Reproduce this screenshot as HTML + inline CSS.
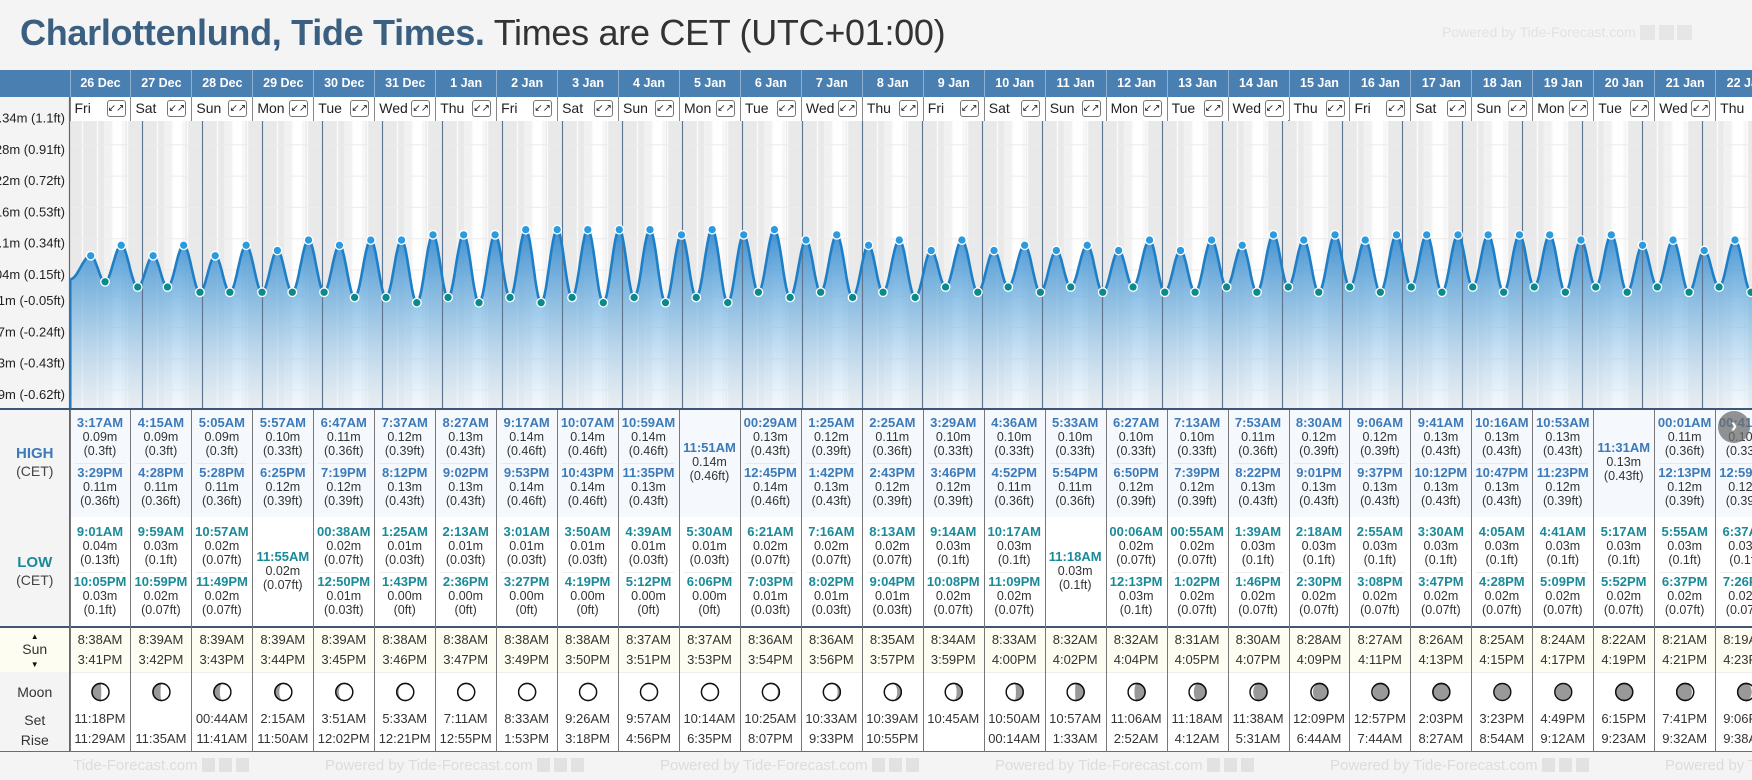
<!DOCTYPE html>
<html><head><meta charset="utf-8">
<style>
*{box-sizing:border-box;margin:0;padding:0}
body{width:1752px;height:780px;overflow:hidden;background:#f4f4f4;font-family:"Liberation Sans",Arial,sans-serif;position:relative}
.a{position:absolute}
.c{position:absolute;text-align:center;white-space:nowrap}
#title{left:20px;top:12px;font-size:36px;color:#333;white-space:nowrap;letter-spacing:-0.3px}
#title b{color:#3a5f80}
</style></head><body>
<div id="title" class="a"><b>Charlottenlund, Tide Times.</b> Times are CET (UTC+01:00)</div>
<div class="a" style="left:1442px;top:24px;font-size:14px;color:#e2e2e2;white-space:nowrap">Powered by Tide-Forecast.com <span style="display:inline-block;width:15px;height:15px;background:#e6e6e6;vertical-align:-3px"></span> <span style="display:inline-block;width:15px;height:15px;background:#e6e6e6;vertical-align:-3px"></span> <span style="display:inline-block;width:15px;height:15px;background:#e6e6e6;vertical-align:-3px"></span></div>
<div id="root" style="position:absolute;left:0;top:0;width:1752px;height:780px;overflow:hidden"></div>
<script>
// ---- data ----
const dates=["26 Dec","27 Dec","28 Dec","29 Dec","30 Dec","31 Dec","1 Jan","2 Jan","3 Jan","4 Jan","5 Jan","6 Jan","7 Jan","8 Jan","9 Jan","10 Jan","11 Jan","12 Jan","13 Jan","14 Jan","15 Jan","16 Jan","17 Jan","18 Jan","19 Jan","20 Jan","21 Jan","22 Jan"];
const weekdays=["Fri","Sat","Sun","Mon","Tue","Wed","Thu","Fri","Sat","Sun","Mon","Tue","Wed","Thu","Fri","Sat","Sun","Mon","Tue","Wed","Thu","Fri","Sat","Sun","Mon","Tue","Wed","Thu"];
const highTimes=[["3:17AM","3:29PM"],["4:15AM","4:28PM"],["5:05AM","5:28PM"],["5:57AM","6:25PM"],["6:47AM","7:19PM"],["7:37AM","8:12PM"],["8:27AM","9:02PM"],["9:17AM","9:53PM"],["10:07AM","10:43PM"],["10:59AM","11:35PM"],["11:51AM"],["00:29AM","12:45PM"],["1:25AM","1:42PM"],["2:25AM","2:43PM"],["3:29AM","3:46PM"],["4:36AM","4:52PM"],["5:33AM","5:54PM"],["6:27AM","6:50PM"],["7:13AM","7:39PM"],["7:53AM","8:22PM"],["8:30AM","9:01PM"],["9:06AM","9:37PM"],["9:41AM","10:12PM"],["10:16AM","10:47PM"],["10:53AM","11:23PM"],["11:31AM"],["00:01AM","12:13PM"],["00:41AM","12:59PM"]];
const highM=[[0.09,0.11],[0.09,0.11],[0.09,0.11],[0.10,0.12],[0.11,0.12],[0.12,0.13],[0.13,0.13],[0.14,0.14],[0.14,0.14],[0.14,0.13],[0.14],[0.13,0.14],[0.12,0.13],[0.11,0.12],[0.10,0.12],[0.10,0.11],[0.10,0.11],[0.10,0.12],[0.10,0.12],[0.11,0.13],[0.12,0.13],[0.12,0.13],[0.13,0.13],[0.13,0.13],[0.13,0.12],[0.13],[0.11,0.12],[0.10,0.12]];
const highFt=[["0.3","0.36"],["0.3","0.36"],["0.3","0.36"],["0.33","0.39"],["0.36","0.39"],["0.39","0.43"],["0.43","0.43"],["0.46","0.46"],["0.46","0.46"],["0.46","0.43"],["0.46"],["0.43","0.46"],["0.39","0.43"],["0.36","0.39"],["0.33","0.39"],["0.33","0.36"],["0.33","0.36"],["0.33","0.39"],["0.33","0.39"],["0.36","0.43"],["0.39","0.43"],["0.39","0.43"],["0.43","0.43"],["0.43","0.43"],["0.43","0.39"],["0.43"],["0.36","0.39"],["0.33","0.39"]];
const lowTimes=[["9:01AM","10:05PM"],["9:59AM","10:59PM"],["10:57AM","11:49PM"],["11:55AM"],["00:38AM","12:50PM"],["1:25AM","1:43PM"],["2:13AM","2:36PM"],["3:01AM","3:27PM"],["3:50AM","4:19PM"],["4:39AM","5:12PM"],["5:30AM","6:06PM"],["6:21AM","7:03PM"],["7:16AM","8:02PM"],["8:13AM","9:04PM"],["9:14AM","10:08PM"],["10:17AM","11:09PM"],["11:18AM"],["00:06AM","12:13PM"],["00:55AM","1:02PM"],["1:39AM","1:46PM"],["2:18AM","2:30PM"],["2:55AM","3:08PM"],["3:30AM","3:47PM"],["4:05AM","4:28PM"],["4:41AM","5:09PM"],["5:17AM","5:52PM"],["5:55AM","6:37PM"],["6:37AM","7:26PM"]];
const lowM=[[0.04,0.03],[0.03,0.02],[0.02,0.02],[0.02],[0.02,0.01],[0.01,0.00],[0.01,0.00],[0.01,0.00],[0.01,0.00],[0.01,0.00],[0.01,0.00],[0.02,0.01],[0.02,0.01],[0.02,0.01],[0.03,0.02],[0.03,0.02],[0.03],[0.02,0.03],[0.02,0.02],[0.03,0.02],[0.03,0.02],[0.03,0.02],[0.03,0.02],[0.03,0.02],[0.03,0.02],[0.03,0.02],[0.03,0.02],[0.03,0.02]];
const lowFt=[["0.13","0.1"],["0.1","0.07"],["0.07","0.07"],["0.07"],["0.07","0.03"],["0.03","0"],["0.03","0"],["0.03","0"],["0.03","0"],["0.03","0"],["0.03","0"],["0.07","0.03"],["0.07","0.03"],["0.07","0.03"],["0.1","0.07"],["0.1","0.07"],["0.1"],["0.07","0.1"],["0.07","0.07"],["0.1","0.07"],["0.1","0.07"],["0.1","0.07"],["0.1","0.07"],["0.1","0.07"],["0.1","0.07"],["0.1","0.07"],["0.1","0.07"],["0.1","0.07"]];
const sunRise=["8:38AM","8:39AM","8:39AM","8:39AM","8:39AM","8:38AM","8:38AM","8:38AM","8:38AM","8:37AM","8:37AM","8:36AM","8:36AM","8:35AM","8:34AM","8:33AM","8:32AM","8:32AM","8:31AM","8:30AM","8:28AM","8:27AM","8:26AM","8:25AM","8:24AM","8:22AM","8:21AM","8:19AM"];
const sunSet=["3:41PM","3:42PM","3:43PM","3:44PM","3:45PM","3:46PM","3:47PM","3:49PM","3:50PM","3:51PM","3:53PM","3:54PM","3:56PM","3:57PM","3:59PM","4:00PM","4:02PM","4:04PM","4:05PM","4:07PM","4:09PM","4:11PM","4:13PM","4:15PM","4:17PM","4:19PM","4:21PM","4:23PM"];
const moonSet=["11:18PM","","00:44AM","2:15AM","3:51AM","5:33AM","7:11AM","8:33AM","9:26AM","9:57AM","10:14AM","10:25AM","10:33AM","10:39AM","10:45AM","10:50AM","10:57AM","11:06AM","11:18AM","11:38AM","12:09PM","12:57PM","2:03PM","3:23PM","4:49PM","6:15PM","7:41PM","9:06PM"];
const moonRise=["11:29AM","11:35AM","11:41AM","11:50AM","12:02PM","12:21PM","12:55PM","1:53PM","3:18PM","4:56PM","6:35PM","8:07PM","9:33PM","10:55PM","","00:14AM","1:33AM","2:52AM","4:12AM","5:31AM","6:44AM","7:44AM","8:27AM","8:54AM","9:12AM","9:23AM","9:32AM","9:38AM"];
const moonLit=[0.45,0.55,0.65,0.74,0.82,0.89,0.95,0.98,1.0,0.99,0.96,0.91,0.84,0.76,0.67,0.57,0.47,0.37,0.28,0.19,0.12,0.06,0.02,0.0,0.01,0.04,0.1,0.17];
const moonWaxing=[1,1,1,1,1,1,1,1,1,0,0,0,0,0,0,0,0,0,0,0,0,0,0,0,1,1,1,1];
const yTickM=["0.34m","0.28m","0.22m","0.16m","0.1m","0.04m","-0.01m","-0.07m","-0.13m","-0.19m"];
const yTickFt=["1.1ft","0.91ft","0.72ft","0.53ft","0.34ft","0.15ft","-0.05ft","-0.24ft","-0.43ft","-0.62ft"];
const yTickVal=[0.34,0.28,0.22,0.16,0.10,0.04,-0.01,-0.07,-0.13,-0.19];
const startVal=0.045;

// ---- layout ----
const L=69.5, CW=60.95, N=dates.length;
const CH_TOP=121, CH_BOT=408;
const X0=82.5, PXH=2.5;
function xT(h){return X0+h*PXH;}
function yV(v){return 250.5-(v-0.1)*521.7;}
function yTick(v){return 243.7-(v-0.1)*521.7;}
function hrs(s){const m=s.match(/(\d+):(\d+)(AM|PM)/);let h=+m[1]%12;if(m[3]=="PM")h+=12;return h+ +m[2]/60;}
const root=document.getElementById('root');
function div(cls,style,html){const d=document.createElement('div');d.className=cls;d.style.cssText=style;if(html!==undefined)d.innerHTML=html;root.appendChild(d);return d;}
const NS="http://www.w3.org/2000/svg";
function sv(tag,attrs,parent){const e=document.createElementNS(NS,tag);for(const k in attrs)e.setAttribute(k,attrs[k]);parent.appendChild(e);return e;}

// header
let d=div('a','left:0;top:70px;width:1752px;height:27px;background:#4a7fb1');


d=div('a','left:0;top:97px;width:'+L+'px;height:24px;background:#f4f4f4');
d=div('a','left:'+L+'px;top:97px;width:'+(1752-L)+'px;height:24px;background:#fff;border-bottom:1px solid #888');
for(let i=0;i<N;i++){
  const x=L+i*CW;
  d=div('c','left:'+x+'px;top:70px;width:'+CW+'px;height:27px;line-height:27px;color:#fff;font-weight:bold;font-size:12.5px;border-left:1px solid #8fb0d0',dates[i]);
  
  
  d=div('a','left:'+x+'px;top:97px;width:'+CW+'px;height:24px;border-left:1px solid #888;background:#fff');
  d=div('a','left:'+(x+5)+'px;top:100px;font-size:14px;color:#222;white-space:nowrap',weekdays[i]);
  
  
  if(i<N-1){
    d=div('c','left:'+(x+37)+'px;top:100px;width:19px;height:17px;border:1px solid #777;border-radius:3px;font-size:10px;line-height:15px;color:#222;background:#fff','&#x2199;&#x2197;');
    
    
  }
}

// chart svg
const svg=document.createElementNS(NS,'svg');
svg.setAttribute('width',1752);svg.setAttribute('height',410);
svg.style.cssText='position:absolute;left:0;top:0';


root.appendChild(svg);
const defs=sv('defs',{},svg);
const gr=sv('linearGradient',{id:'fillg',x1:0,y1:0,x2:0,y2:1},defs);
sv('stop',{offset:'0%','stop-color':'#2b85cc','stop-opacity':0.9},gr);
sv('stop',{offset:'45%','stop-color':'#6aaee0','stop-opacity':0.65},gr);
sv('stop',{offset:'100%','stop-color':'#e8f2fb','stop-opacity':0.5},gr);
const cp=sv('clipPath',{id:'clipc'},defs);
sv('rect',{x:L,y:CH_TOP,width:1752-L,height:CH_BOT-CH_TOP},cp);
const g=sv('g',{'clip-path':'url(#clipc)'},svg);
sv('rect',{x:L,y:CH_TOP,width:1752-L,height:CH_BOT-CH_TOP,fill:'#f7f7f7'},g);
// day/night bands
for(let i=-1;i<N;i++){
  const k=Math.max(i,0);
  const rise=i*24+hrs(sunRise[k]), set=i*24+hrs(sunSet[k]);
  sv('rect',{x:xT(rise),y:CH_TOP,width:xT(rise+3.3)-xT(rise),height:CH_BOT-CH_TOP,fill:'#f1f1f1'},g);
  sv('rect',{x:xT(rise+3.3),y:CH_TOP,width:xT(set)-xT(rise+3.3),height:CH_BOT-CH_TOP,fill:'#ffffff'},g);
  sv('rect',{x:xT(i*24),y:CH_TOP,width:xT(rise)-xT(i*24),height:CH_BOT-CH_TOP,fill:'#e9e9e9'},g);
  sv('rect',{x:xT(set+1.5),y:CH_TOP,width:xT((i+1)*24)-xT(set+1.5),height:CH_BOT-CH_TOP,fill:'#e9e9e9'},g);
}
// grid
for(let h=-24;h<N*24;h+=6) sv('line',{x1:xT(h),x2:xT(h),y1:CH_TOP,y2:CH_BOT,stroke:'#fafafa','stroke-width':1.5},g);
yTickVal.forEach(v=>sv('line',{x1:L,x2:1752,y1:yTick(v)-5,y2:yTick(v)-5,stroke:'#ececec','stroke-width':1},g));
// extremes
const ext=[{t:-4.9,v:startVal,hi:null}];
for(let i=0;i<N;i++){
  highTimes[i].forEach((s,j)=>ext.push({t:i*24+hrs(s),v:highM[i][j],hi:true}));
  lowTimes[i].forEach((s,j)=>ext.push({t:i*24+hrs(s),v:lowM[i][j],hi:false}));
}
ext.sort((a,b)=>a.t-b.t);
let pts=[];
for(let k=0;k<ext.length-1;k++){
  const a=ext[k],b=ext[k+1];const n=Math.max(4,Math.ceil((b.t-a.t)*PXH));
  for(let s=0;s<n;s++){const f=s/n;const v=a.v+(b.v-a.v)*(1-Math.cos(Math.PI*f))/2;pts.push([xT(a.t+(b.t-a.t)*f),yV(v)]);}
}
const last=ext[ext.length-1];pts.push([xT(last.t),yV(last.v)]);
pts.push([xT(last.t+6),yV(0.04)]);
const line=pts.map((p,i)=>(i?'L':'M')+p[0].toFixed(1)+','+p[1].toFixed(1)).join('');
const area=sv('path',{d:line+'L'+pts[pts.length-1][0]+','+CH_BOT+'L'+pts[0][0]+','+CH_BOT+'Z',fill:'url(#fillg)'},g);


// midnight lines
for(let i=1;i<=N;i++) sv('line',{x1:xT(i*24),x2:xT(i*24),y1:CH_TOP,y2:CH_BOT,stroke:'#5e7590','stroke-width':1.2},g);
const tl=sv('path',{d:line,fill:'none',stroke:'#1f7fc6','stroke-width':2.6},g);


sv('line',{x1:pts[0][0],x2:pts[0][0],y1:pts[0][1],y2:CH_BOT,stroke:'#1f7fc6','stroke-width':2.6},g);
ext.forEach(e=>{if(e.hi===null)return;
  const c=sv('circle',{cx:xT(e.t),cy:yV(e.v),r:4.3,fill:e.hi?'#2b9be0':'#0b8a8c',stroke:'#fff','stroke-width':1.3},g);
  
  
});
// y axis labels
yTickVal.forEach((v,i)=>{
  const t=sv('text',{x:65,y:yTick(v)+4,'text-anchor':'end','font-size':13,fill:'#222','font-family':'Liberation Sans, sans-serif'},svg);
  t.textContent=yTickM[i]+' ('+yTickFt[i]+')';
  
  
});
sv('rect',{x:0,y:97,width:L,height:16,fill:'#f4f4f4'},svg);
sv('line',{x1:L,x2:L,y1:97,y2:410,stroke:'#666','stroke-width':1.2},svg);

// table backgrounds
div('a','left:0;top:408px;width:1752px;height:2px;background:#3d5876');
div('a','left:'+L+'px;top:410px;width:'+(1752-L)+'px;height:107px;background:#f5f9fd');
div('a','left:'+L+'px;top:517px;width:'+(1752-L)+'px;height:109px;background:#fff');
div('a','left:0;top:626px;width:1752px;height:2px;background:#3d5876');
div('a','left:'+L+'px;top:628px;width:'+(1752-L)+'px;height:44px;background:#fdfdf1');
div('a','left:0;top:628px;width:'+L+'px;height:44px;background:#fdfdf1');
div('a','left:'+L+'px;top:672px;width:'+(1752-L)+'px;height:80px;background:#fff;border-top:1px solid #eee');
div('a','left:0;top:751px;width:1752px;height:1px;background:#5a6f88');
div('a','left:'+(L-0.5)+'px;top:410px;width:1.2px;height:342px;background:#666');
// left labels
function lab(t,y,style,name){const e=div('c','left:0;top:'+y+'px;width:'+L+'px;'+style,t);}
lab('HIGH',445,'font-size:15px;font-weight:bold;color:#3d7ab8','high-label');
lab('(CET)',463,'font-size:14px;color:#444','high-cet-label');
lab('LOW',554,'font-size:15px;font-weight:bold;color:#1a8a99','low-label');
lab('(CET)',572,'font-size:14px;color:#444','low-cet-label');
lab('&#9650;',632,'font-size:8px;color:#111','sun-up-arrow');
lab('Sun',641,'font-size:14px;color:#333','sun-label');
lab('&#9660;',660,'font-size:8px;color:#111','sun-down-arrow');
lab('Moon',684,'font-size:14px;color:#333','moon-label');
lab('Set',712,'font-size:14px;color:#333','moon-set-label');
lab('Rise',732,'font-size:14px;color:#333','moon-rise-label');

function cell(x,y,html,style,name){const e=div('c','left:'+x+'px;top:'+y+'px;width:'+CW+'px;font-size:12.5px;line-height:14px;color:#333;'+style,html);return e;}
function entry(x,y,t,m,ft,col,name){cell(x,y,'<b style="color:'+col+';font-size:13px">'+t+'</b><br>'+m.toFixed(2)+'m<br>('+ft+'ft)','',name);}
// moon svg on top of table
const msvg=document.createElementNS(NS,'svg');
msvg.setAttribute('width',1752);msvg.setAttribute('height',30);
msvg.style.cssText='position:absolute;left:0;top:677px';


for(let i=0;i<N;i++){
  const x=L+i*CW;
  d=div('a','left:'+x+'px;top:410px;width:1px;height:342px;background:#777');
  if(highTimes[i].length==2){
    entry(x,416,highTimes[i][0],highM[i][0],highFt[i][0],'#3d7ab8','high-tide-am');
    div('a','left:'+(x+5)+'px;top:463px;width:'+(CW-10)+'px;height:1px;background:#e6e9ee');
    entry(x,466,highTimes[i][1],highM[i][1],highFt[i][1],'#3d7ab8','high-tide-pm');
  } else entry(x,441,highTimes[i][0],highM[i][0],highFt[i][0],'#3d7ab8','high-tide-single');
  if(lowTimes[i].length==2){
    entry(x,525,lowTimes[i][0],lowM[i][0],lowFt[i][0],'#1a8a99','low-tide-am');
    div('a','left:'+(x+5)+'px;top:572px;width:'+(CW-10)+'px;height:1px;background:#eee');
    entry(x,575,lowTimes[i][1],lowM[i][1],lowFt[i][1],'#1a8a99','low-tide-pm');
  } else entry(x,550,lowTimes[i][0],lowM[i][0],lowFt[i][0],'#1a8a99','low-tide-single');
  cell(x,633,sunRise[i],'font-size:13px','sunrise-time');
  cell(x,653,sunSet[i],'font-size:13px','sunset-time');
  cell(x,712,moonSet[i],'font-size:13px','moonset-time');
  cell(x,732,moonRise[i],'font-size:13px','moonrise-time');
  // moon icon
  const cx=x+CW/2+0.5, cy=15, r=8.5, f=moonLit[i];
  const mc=sv('circle',{cx:cx,cy:cy,r:r,fill:'#999',stroke:'#111','stroke-width':1.4},msvg);
  
  
  if(f>0.01){
    const rx=Math.abs(2*f-1)*r; const side=moonWaxing[i]?1:0;
    const p='M'+cx+','+(cy-r)+' A'+r+','+r+' 0 0 '+side+' '+cx+','+(cy+r)+' A'+rx+','+r+' 0 0 '+(f>0.5?side:1-side)+' '+cx+','+(cy-r)+'Z';
    sv('path',{d:p,fill:'#fff'},msvg);
    sv('circle',{cx:cx,cy:cy,r:r,fill:'none',stroke:'#111','stroke-width':1.4},msvg);
  }
}
root.appendChild(msvg);
// footer watermarks
for(let k=0;k<6;k++){
  d=div('a','left:'+(-10+k*335)+'px;top:757px;font-size:15px;color:#dcdcdc;white-space:nowrap','Powered by Tide-Forecast.com <span style="display:inline-block;width:13px;height:14px;background:#e2e2e2;vertical-align:-2px"></span> <span style="display:inline-block;width:13px;height:14px;background:#e2e2e2;vertical-align:-2px"></span> <span style="display:inline-block;width:13px;height:14px;background:#e2e2e2;vertical-align:-2px"></span>');
  
  
}
d=div('a','left:0;top:752px;width:'+L+'px;height:28px;background:#f4f4f4');
// next arrow button
d=div('c','left:1718px;top:411px;width:32px;height:32px;border-radius:16px;background:rgba(110,110,110,0.75);color:#fff;font-size:20px;line-height:30px;font-weight:bold','&#x203A;');


</script>
</body></html>
